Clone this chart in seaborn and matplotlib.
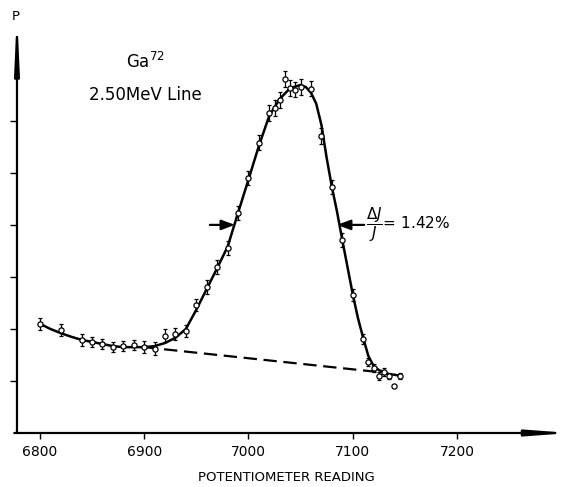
import matplotlib
matplotlib.use("Agg")
import matplotlib.pyplot as plt
import seaborn as sns
import pandas as pd

# measured points (potentiometer reading, relative intensity)
reading = [6800, 6820, 6840, 6850, 6860, 6870, 6880, 6890, 6900, 6910,
           6920, 6930, 6940, 6950, 6960, 6970, 6980, 6990, 7000, 7010,
           7020, 7025, 7030, 7035, 7040, 7045, 7050, 7060, 7070, 7080,
           7090, 7100, 7110, 7115, 7120, 7125, 7130, 7135, 7140, 7145]
intensity = [2.10, 1.98, 1.79, 1.75, 1.71, 1.65, 1.67, 1.69, 1.65, 1.62,
             1.87, 1.90, 1.96, 2.46, 2.81, 3.19, 3.56, 4.23, 4.90, 5.58,
             6.15, 6.25, 6.40, 6.81, 6.63, 6.60, 6.65, 6.62, 5.71, 4.73,
             3.71, 2.65, 1.81, 1.37, 1.25, 1.10, 1.17, 1.10, 0.90, 1.10]
error = [0.12, 0.12, 0.12, 0.10, 0.10, 0.10, 0.10, 0.10, 0.12, 0.12,
         0.12, 0.12, 0.12, 0.12, 0.13, 0.13, 0.13, 0.14, 0.14, 0.14,
         0.15, 0.15, 0.15, 0.15, 0.15, 0.15, 0.15, 0.15, 0.15, 0.14,
         0.13, 0.12, 0.10, 0.08, 0.08, 0.08, 0.08, 0.06, 0.0, 0.06]

# hand drawn fitted curve
curve_x = [6800, 6810, 6820, 6830, 6840, 6850, 6860, 6870, 6880, 6890,
           6900, 6910, 6920, 6930, 6940, 6950, 6960, 6970, 6980, 6990,
           7000, 7010, 7020, 7030, 7040, 7050, 7055, 7060, 7065, 7070,
           7075, 7080, 7085, 7090, 7095, 7100, 7105, 7110, 7115, 7120,
           7125, 7130, 7135, 7140, 7145]
curve_y = [2.10, 2.00, 1.92, 1.85, 1.79, 1.75, 1.71, 1.67, 1.65, 1.65,
           1.65, 1.67, 1.73, 1.83, 2.00, 2.37, 2.77, 3.17, 3.58, 4.23,
           4.87, 5.52, 6.10, 6.42, 6.63, 6.69, 6.65, 6.54, 6.33, 5.92,
           5.29, 4.73, 4.25, 3.71, 3.19, 2.67, 2.21, 1.83, 1.48, 1.29,
           1.21, 1.17, 1.13, 1.12, 1.10]

# background line
bg_x = [6900, 7130]
bg_y = [1.65, 1.16]

x_ticks = [6800, 6900, 7000, 7100, 7200]
y_ticks = [1, 2, 3, 4, 5, 6]

sns.set_style("white")
plt.rcParams["font.family"] = ["DejaVu Sans"]
plt.rcParams["text.color"] = "black"
plt.rcParams["axes.labelcolor"] = "black"
plt.rcParams["xtick.color"] = "black"
plt.rcParams["ytick.color"] = "black"

fig = plt.figure(figsize=(5.68, 4.87), dpi=100)
ax = fig.add_axes([0.0299, 0.1109, 0.9472, 0.8172])

points = pd.DataFrame({"reading": reading, "intensity": intensity})
curve = pd.DataFrame({"x": curve_x, "y": curve_y})
bg = pd.DataFrame({"x": bg_x, "y": bg_y})

sns.lineplot(data=curve, x="x", y="y", ax=ax, color="black", lw=1.8,
             sort=False, estimator=None)
sns.lineplot(data=bg, x="x", y="y", ax=ax, color="black", lw=1.6,
             dashes=False, linestyle=(0, (6, 3)))
ax.errorbar(reading, intensity, yerr=error, fmt="none", ecolor="black",
            elinewidth=0.9, capsize=1.5, capthick=0.9)
sns.scatterplot(data=points, x="reading", y="intensity", ax=ax, marker="o",
                s=14, facecolor="white", edgecolor="black", linewidth=0.9,
                zorder=5)

ax.set_xlim(6778, 7294)
ax.set_ylim(0, 7.65)

for s in ax.spines.values():
    s.set_visible(False)

# axes drawn as arrows
ax.annotate("", xy=(1.028, 0), xytext=(-0.005, 0), xycoords="axes fraction",
            arrowprops=dict(arrowstyle="-|>,head_length=2.4,head_width=0.18",
                            color="black", lw=1.6, shrinkA=0, shrinkB=0))
ax.annotate("", xy=(0, 1.055), xytext=(0, 0), xycoords="axes fraction",
            arrowprops=dict(arrowstyle="-|>,head_length=3.0,head_width=0.14",
                            color="black", lw=1.6, shrinkA=0, shrinkB=0))

ax.set_xticks(x_ticks)
ax.set_xticklabels([str(t) for t in x_ticks], fontsize=10)
ax.set_yticks(y_ticks)
ax.set_yticklabels([])
ax.tick_params(axis="x", direction="out", length=4, width=1.0, pad=5,
               bottom=True)
ax.tick_params(axis="y", direction="out", length=5, width=1.0, left=True)

ax.set_xlabel("POTENTIOMETER READING", fontsize=9.5, labelpad=8)
ax.set_ylabel("")
fig.text(16 / 568, 1 - 16 / 487, "P", fontsize=9.5, ha="center", va="center")

ax.text(6901, 7.13, "Ga$^{72}$", fontsize=12, ha="center", va="center")
ax.text(6901, 6.50, "2.50MeV Line", fontsize=12, ha="center", va="center")

# half-width markers
ax.annotate("", xy=(6987, 4.0), xytext=(6963, 4.0),
            arrowprops=dict(arrowstyle="-|>,head_length=0.8,head_width=0.3",
                            color="black", lw=1.6, shrinkA=0, shrinkB=0))
ax.annotate("", xy=(7085, 4.0), xytext=(7111, 4.0),
            arrowprops=dict(arrowstyle="-|>,head_length=0.8,head_width=0.3",
                            color="black", lw=1.6, shrinkA=0, shrinkB=0))
ax.text(7113, 4.0, r"$\dfrac{\Delta J}{J}$= 1.42%", fontsize=11,
        ha="left", va="center")

fig.savefig("out.png", dpi=100)
